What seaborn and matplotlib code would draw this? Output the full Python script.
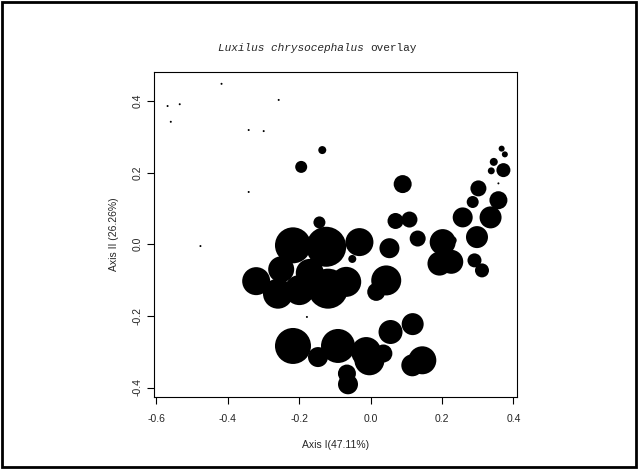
import matplotlib
matplotlib.use("Agg")
import matplotlib.pyplot as plt
import seaborn as sns
import pandas as pd
from matplotlib.patches import Rectangle

# Ordination scores (Axis I, Axis II) and abundance weights
axis1 = [-0.568, -0.559, -0.534, -0.417, -0.341, -0.299, -0.257, -0.341, -0.476, -0.178, 0.358,
         -0.135, -0.194, 0.090, -0.143, 0.070, 0.109,
         -0.031, -0.051, 0.053, 0.132, 0.044, 0.016,
         0.202, 0.230, 0.193, 0.226, 0.258, 0.302, 0.286, 0.298, 0.336, 0.358, 0.372, 0.345, 0.338,
         0.367, 0.376, 0.291, 0.312,
         -0.217, -0.147, -0.091, -0.012, -0.003, 0.036, -0.066, -0.063, 0.056, 0.118, 0.145, 0.117,
         -0.217, -0.124, -0.320, -0.250, -0.259, -0.199, -0.119, -0.068, -0.170]
axis2 = [0.386, 0.342, 0.391, 0.448, 0.319, 0.316, 0.403, 0.146, -0.005, -0.203, 0.170,
         0.263, 0.216, 0.168, 0.061, 0.065, 0.069,
         0.006, -0.041, -0.011, 0.016, -0.101, -0.133,
         0.006, 0.011, -0.054, -0.049, 0.075, 0.156, 0.118, 0.020, 0.075, 0.123, 0.207, 0.230, 0.205,
         0.267, 0.251, -0.045, -0.073,
         -0.284, -0.315, -0.284, -0.301, -0.324, -0.305, -0.361, -0.391, -0.245, -0.223, -0.324, -0.338,
         -0.003, -0.007, -0.103, -0.070, -0.138, -0.128, -0.124, -0.105, -0.080]
abundance = [1, 1, 1, 1, 1, 1, 1, 1, 1, 1, 1,
             16, 36, 81, 36, 64, 64,
             196, 16, 100, 64, 225, 81,
             169, 16, 144, 144, 100, 64, 36, 121, 121, 81, 49, 16, 12,
             9, 9, 49, 49,
             324, 100, 289, 225, 225, 81, 81, 100, 144, 121, 196, 121,
             324, 400, 196, 169, 225, 225, 400, 225, 196]

xticks = [-0.6, -0.4, -0.2, 0.0, 0.2, 0.4]
yticks = [-0.4, -0.2, 0.0, 0.2, 0.4]

df = pd.DataFrame({"x": axis1, "y": axis2, "w": abundance})

sns.set_style("white")
plt.rcParams['font.family'] = ['Liberation Sans', 'DejaVu Sans']

fig = plt.figure(figsize=(6.38, 4.69), dpi=100)
ax = fig.add_axes([154/638, 1-397/469, 363/638, 325/469])

wmax = max(abundance)
smax = (2*20*0.72)**2 * wmax / 400
sns.scatterplot(data=df, x="x", y="y", size="w", sizes=(0, smax), size_norm=(0, wmax),
                color="black", linewidth=0, legend=False, ax=ax)

ax.set_xlim(-0.606, 0.41)
ax.set_ylim(-0.4265, 0.481)
ax.set_xticks(xticks)
ax.set_yticks(yticks)
ax.set_xticklabels([f"{t:.1f}" for t in xticks], fontsize=7.5)
ax.set_yticklabels([f"{t:.1f}" for t in yticks], fontsize=7.5, rotation=90, va="center")
ax.tick_params(axis="x", direction="out", length=5, width=0.8, color="black", pad=7, bottom=True)
ax.tick_params(axis="y", direction="out", length=5, width=0.8, color="black", pad=3, left=True)
for s in ax.spines.values():
    s.set_color("black")
    s.set_linewidth(0.8)
ax.set_xlabel("Axis I(47.11%)", fontsize=7.5, labelpad=12)
ax.set_ylabel("Axis II (26.26%)", fontsize=7.5, labelpad=10)

# Title: italic species name followed by plain text, monospace
ty = 1 - 51/469
t1 = fig.text(218/638, ty, "Luxilus chrysocephalus", family="Liberation Mono", style="italic",
              fontsize=8, ha="left", va="baseline")
fig.canvas.draw()
bb = t1.get_window_extent()
cw = bb.width / len("Luxilus chrysocephalus")
fig.text((bb.x1 + cw) / 638, ty, "overlay", family="Liberation Mono", fontsize=8, ha="left", va="baseline")

fig.patches.append(Rectangle((2/638, 2/469), 634/638, 465/469, transform=fig.transFigure,
                             fill=False, edgecolor="black", linewidth=2))

fig.savefig("out.png", dpi=100)
